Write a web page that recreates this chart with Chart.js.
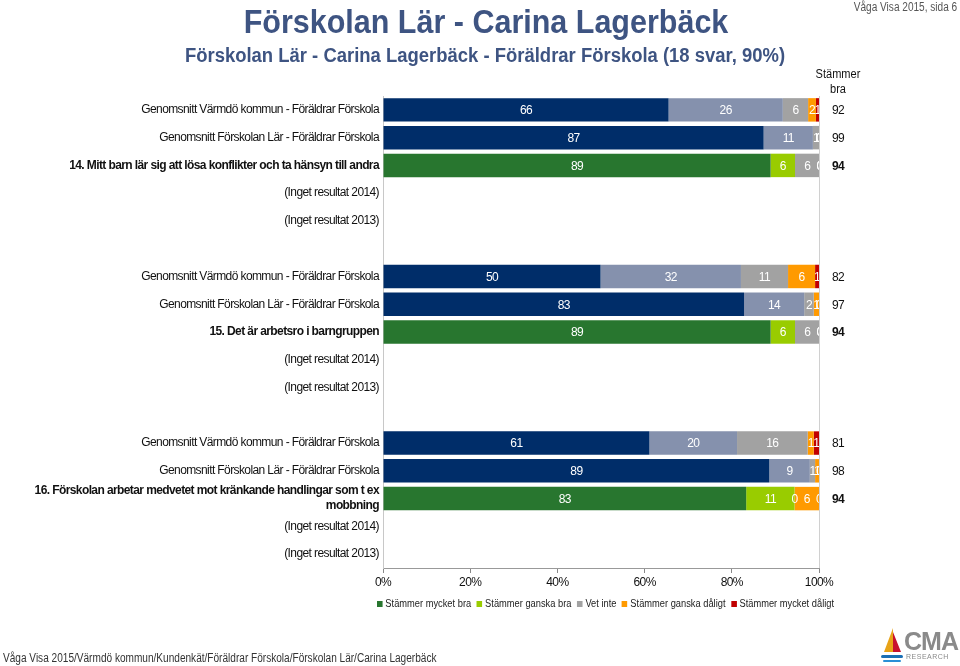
<!DOCTYPE html>
<html>
<head>
<meta charset="utf-8">
<script src="https://cdn.jsdelivr.net/npm/chart.js@4/dist/chart.umd.min.js"></script>
<style>
  html, body { margin: 0; padding: 0; background: #fff; }
  #wrap { position: relative; width: 960px; height: 666px; overflow: hidden; font-family: "Liberation Sans", Arial, sans-serif; }
  #c { position: absolute; left: 0; top: 0; }
  #title { position: absolute; left: 0; width: 972px; top: 3px; text-align: center; font-size: 33px; font-weight: bold; color: #3E5482; transform: scaleX(0.924); transform-origin: 486px 0; }
  #subtitle { position: absolute; left: 0; width: 970px; top: 44px; text-align: center; font-size: 20px; font-weight: bold; color: #3E5482; transform: scaleX(0.923); transform-origin: 485px 0; }
  #page { position: absolute; right: 3px; top: 0px; font-size: 12px; color: #555; transform: scaleX(0.84); transform-origin: right top; }
  #colhead { position: absolute; left: 808px; width: 60px; top: 67px; text-align: center; font-size: 12px; line-height: 15px; color: #111; transform: scaleX(0.92); transform-origin: 30px 0; }
  #legend { position: absolute; left: 377px; top: 598px; display: flex; gap: 6px; font-size: 10px; color: #222; white-space: nowrap; transform: scaleX(0.93); transform-origin: left top; }
  #legend span.item { display: inline-flex; align-items: center; }
  #legend i { display: inline-block; width: 6px; height: 6px; margin-right: 3px; }
  #footer { position: absolute; left: 3px; top: 651px; font-size: 12px; color: #333; transform: scaleX(0.84); transform-origin: left top; white-space: nowrap; }
  #logo { position: absolute; left: 878px; top: 626px; width: 82px; height: 38px; }
  #logo .cma { position: absolute; left: 26px; top: 1px; font-size: 25px; font-weight: bold; color: #8a8a8a; letter-spacing: -1px; }
  #logo .res { position: absolute; left: 28px; top: 27px; font-size: 7px; color: #8a8a8a; letter-spacing: 0.5px; }
  #logo .sail1 { position: absolute; left: 6px; top: 2px; width: 0; height: 0; border-left: 9px solid transparent; border-bottom: 24px solid #e8a317; }
  #logo .sail2 { position: absolute; left: 15px; top: 6px; width: 0; height: 0; border-right: 8px solid transparent; border-bottom: 20px solid #c8102e; }
  #logo .wave { position: absolute; left: 3px; top: 29px; width: 22px; height: 3px; border-radius: 2px; background: #1b6fb5; }
  #logo .wave2 { position: absolute; left: 5px; top: 34px; width: 18px; height: 2px; border-radius: 2px; background: #2a8fd6; }
</style>
</head>
<body>
<div id="wrap">
  <canvas id="c" width="960" height="666"></canvas>
  <div id="title">Förskolan Lär - Carina Lagerbäck</div>
  <div id="subtitle">Förskolan Lär - Carina Lagerbäck - Föräldrar Förskola (18 svar, 90%)</div>
  <div id="page">Våga Visa 2015, sida 6</div>
  <div id="colhead">Stämmer<br>bra</div>
  <div id="legend"></div>
  <div id="footer">Våga Visa 2015/Värmdö kommun/Kundenkät/Föräldrar Förskola/Förskolan Lär/Carina Lagerbäck</div>
  <div id="logo"><div class="sail1"></div><div class="sail2"></div><div class="wave"></div><div class="wave2"></div><div class="cma">CMA</div><div class="res">RESEARCH</div></div>
</div>
<script>
// ---- Data ----
const categories = [
  "Genomsnitt Värmdö kommun - Föräldrar Förskola",
  "Genomsnitt Förskolan Lär - Föräldrar Förskola",
  "14. Mitt barn lär sig att lösa konflikter och ta hänsyn till andra",
  "(Inget resultat 2014)",
  "(Inget resultat 2013)",
  "",
  "Genomsnitt Värmdö kommun - Föräldrar Förskola",
  "Genomsnitt Förskolan Lär - Föräldrar Förskola",
  "15. Det är arbetsro i barngruppen",
  "(Inget resultat 2014)",
  "(Inget resultat 2013)",
  "",
  "Genomsnitt Värmdö kommun - Föräldrar Förskola",
  "Genomsnitt Förskolan Lär - Föräldrar Förskola",
  ["16. Förskolan arbetar medvetet mot kränkande handlingar som t ex", "mobbning"],
  "(Inget resultat 2014)",
  "(Inget resultat 2013)"
];
const questionRows = [2, 8, 14];

const seriesNames = ["Stämmer mycket bra", "Stämmer ganska bra", "Vet inte", "Stämmer ganska dåligt", "Stämmer mycket dåligt"];

const mycketBra    = [65.5, 87.3, 88.9, null, null, null, 49.9, 82.8, 88.9, null, null, null, 61.1, 88.6, 83.3, null, null];
const ganskaBra    = [26.2, 11.3,  5.6, null, null, null, 32.2, 13.8,  5.6, null, null, null, 20.1,  9.3, 11.1, null, null];
const vetInte      = [ 5.8,  1.4,  5.6, null, null, null, 10.8,  2.2,  5.6, null, null, null, 16.2,  1.2,  0.0, null, null];
const ganskaDaligt = [ 1.8,  0.0,  0.0, null, null, null,  6.2,  1.2,  0.0, null, null, null,  1.4,  0.9,  5.6, null, null];
const mycketDaligt = [ 0.7,  0.0,  0.0, null, null, null,  0.9,  0.0,  0.0, null, null, null,  1.2,  0.0,  0.0, null, null];

const stammerBra   = [92, 99, 94, null, null, null, 82, 97, 94, null, null, null, 81, 98, 94, null, null];

const xTicks = [0, 20, 40, 60, 80, 100];

// ---- Styles ----
const navyColors  = ["#002D69", "#8591AD", "#A2A2A2", "#FF9A00", "#C00000"];
const greenColors = ["#28762F", "#99CC00", "#A2A2A2", "#FF9A00", "#C00000"];
const FONT = '"Liberation Sans", Arial, sans-serif';

const seriesData = [mycketBra, ganskaBra, vetInte, ganskaDaligt, mycketDaligt];

const datasets = seriesData.map((arr, i) => ({
  label: seriesNames[i],
  data: arr,
  backgroundColor: (ctx) => questionRows.includes(ctx.dataIndex) ? greenColors[i] : navyColors[i],
  borderWidth: 0,
  categoryPercentage: 1.0,
  barPercentage: 0.845
}));

// Legend (HTML)
const legendEl = document.getElementById('legend');
seriesNames.forEach((n, i) => {
  const s = document.createElement('span');
  s.className = 'item';
  s.innerHTML = '<i style="background:' + greenColors[i] + '"></i>' + n;
  legendEl.appendChild(s);
});

const condensePlugin = {
  id: 'condense',
  beforeDraw(chart) {
    if ('letterSpacing' in chart.ctx) chart.ctx.letterSpacing = '-0.6px';
  }
};

const labelPlugin = {
  id: 'segLabels',
  afterDatasetsDraw(chart) {
    const ctx = chart.ctx;
    const area = chart.chartArea;
    ctx.save();
    ctx.beginPath();
    ctx.rect(area.left, area.top, area.right - area.left, area.bottom - area.top);
    ctx.clip();
    ctx.font = '12px ' + FONT;
    ctx.fillStyle = '#ffffff';
    ctx.textAlign = 'center';
    ctx.textBaseline = 'middle';
    chart.data.datasets.forEach((ds, di) => {
      const meta = chart.getDatasetMeta(di);
      meta.data.forEach((bar, idx) => {
        const v = ds.data[idx];
        if (v === null || v === undefined) return;
        const cx = (bar.x + bar.base) / 2;
        ctx.fillText(String(Math.round(v)), cx, bar.y + 1);
      });
    });
    ctx.restore();

    // Stämmer bra column
    ctx.save();
    ctx.fillStyle = '#111';
    ctx.textAlign = 'center';
    ctx.textBaseline = 'middle';
    const yScale = chart.scales.y;
    stammerBra.forEach((v, idx) => {
      if (v === null) return;
      ctx.font = (questionRows.includes(idx) ? 'bold ' : '') + '12px ' + FONT;
      ctx.fillText(String(v), 838, yScale.getPixelForValue(idx) + 1);
    });
    ctx.restore();
  }
};

new Chart(document.getElementById('c'), {
  type: 'bar',
  data: { labels: categories, datasets },
  options: {
    indexAxis: 'y',
    responsive: false,
    animation: false,
    layout: { padding: { left: 0, top: 96, right: 141, bottom: 68 } },
    plugins: { legend: { display: false }, tooltip: { enabled: false } },
    scales: {
      x: {
        stacked: true,
        min: 0, max: 100,
        afterBuildTicks: (scale) => { scale.ticks = xTicks.map(v => ({ value: v })); },
        afterFit: (scale) => { scale.height = 30; },
        grid: {
          drawOnChartArea: true,
          color: (c) => (c.tick && c.tick.value === 100) ? '#D0D0D0' : 'rgba(0,0,0,0)',
          tickColor: '#888',
          tickLength: 5
        },
        border: { display: true, color: '#999' },
        ticks: {
          padding: 2,
          color: '#111',
          font: { family: FONT, size: 12 },
          callback: (v) => v + '%'
        }
      },
      y: {
        stacked: true,
        afterFit: (scale) => { scale.width = 383; },
        grid: { display: false, drawTicks: false },
        border: { display: true, color: '#C8C8C8' },
        ticks: {
          padding: 4,
          autoSkip: false,
          color: '#111',
          font: (c) => ({ family: FONT, size: 12, weight: questionRows.includes(c.index) ? 'bold' : 'normal', lineHeight: 1.25 })
        }
      }
    }
  },
  plugins: [condensePlugin, labelPlugin]
});
</script>
</body>
</html>
